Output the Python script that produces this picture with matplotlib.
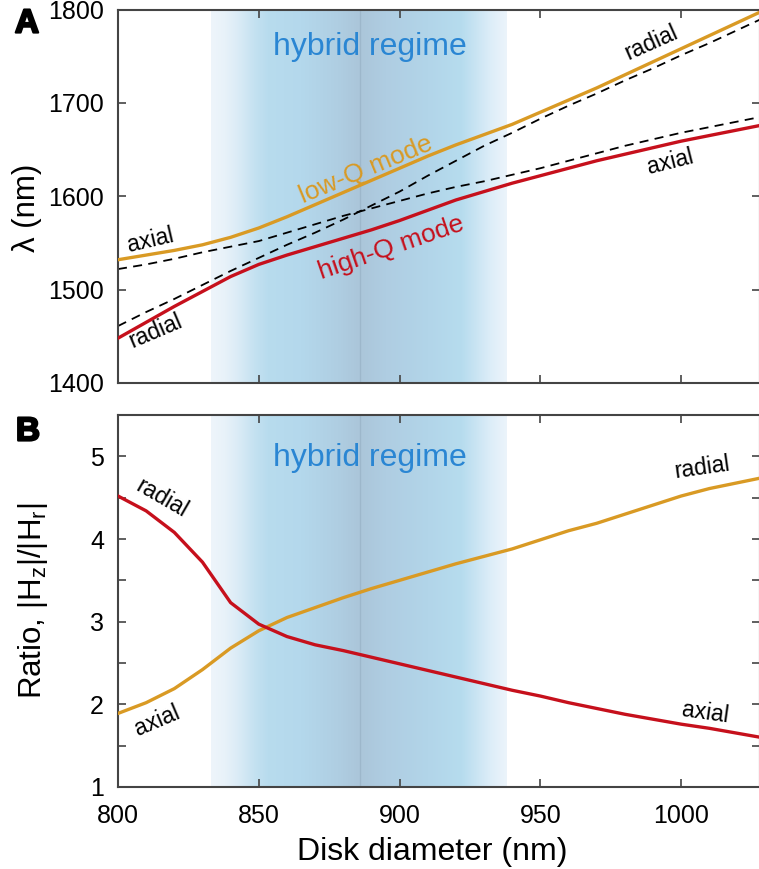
import numpy as np
import matplotlib
matplotlib.use("Agg")
import matplotlib.pyplot as plt
from matplotlib.colors import to_rgb
import matplotlib.patheffects as pe

plt.rcParams['font.family'] = ['Liberation Sans', 'DejaVu Sans']
plt.rcParams['mathtext.fontset'] = 'custom'
plt.rcParams['mathtext.rm'] = 'Liberation Sans'

# ---------------- data ----------------
diameter = [800, 810, 820, 830, 840, 850, 860, 870, 880, 890, 900, 910,
            920, 930, 940, 950, 960, 970, 980, 990, 1000, 1010, 1020, 1030]

# Panel A: wavelength (nm)
lowq_wl = [1532, 1537, 1542, 1548, 1556, 1566, 1578, 1591, 1604, 1617, 1630, 1643,
           1655, 1666, 1677, 1690, 1703, 1716, 1730, 1744, 1758, 1772, 1786, 1800]
highq_wl = [1448, 1465, 1482, 1498, 1514, 1527, 1537, 1546, 1555, 1564, 1574, 1585,
            1596, 1605, 1614, 1622, 1630, 1638, 1645, 1652, 1659, 1665, 1671, 1677]
radial_uncoupled = [1461, 1476, 1490, 1505, 1520, 1534, 1548, 1561, 1575, 1590, 1605, 1622,
                    1638, 1654, 1668, 1683, 1697, 1710, 1724, 1737, 1751, 1764, 1778, 1792]
axial_uncoupled = [1522, 1527, 1533, 1540, 1546, 1552, 1561, 1570, 1579, 1587, 1595, 1603,
                   1610, 1616, 1623, 1630, 1638, 1646, 1654, 1661, 1668, 1674, 1680, 1686]

# Panel B: ratio |Hz|/|Hr|
highq_ratio = [4.52, 4.34, 4.08, 3.72, 3.23, 2.97, 2.82, 2.72, 2.65, 2.57, 2.49, 2.41,
               2.33, 2.25, 2.17, 2.10, 2.02, 1.95, 1.88, 1.82, 1.76, 1.71, 1.65, 1.59]
lowq_ratio = [1.89, 2.02, 2.19, 2.42, 2.68, 2.89, 3.05, 3.17, 3.29, 3.40, 3.50, 3.60,
              3.70, 3.79, 3.88, 3.99, 4.10, 4.19, 4.30, 4.41, 4.52, 4.61, 4.68, 4.75]

hybrid_start, hybrid_center, hybrid_end = 833, 886, 938

yticks_a = [1400, 1500, 1600, 1700, 1800]
yticks_b = [1, 1.5, 2, 2.5, 3, 3.5, 4, 4.5, 5]
yticklabels_b = ['1', '', '2', '', '3', '', '4', '', '5']
xticks = [800, 850, 900, 950, 1000]

# ---------------- style ----------------
GOLD = '#D99A24'
RED = '#C6101C'
BLUE_TXT = '#2A86D3'
SPINE = '#444444'

W, H = 759, 869
fig = plt.figure(figsize=(W / 100, H / 100), dpi=100)

def ax_rect(left, top, right, bottom):
    return [left / W, 1 - bottom / H, (right - left) / W, (bottom - top) / H]

axA = fig.add_axes(ax_rect(118, 9.5, 760, 383))
axB = fig.add_axes(ax_rect(118, 415, 760, 787))

# gradient for hybrid regime
grad_x = np.array([833, 838, 843, 848, 853, 865, 878, 885.5, 886.5, 895, 910, 922, 927, 932, 938], float)
grad_c = ['#eef5fb', '#e8f2f9', '#d9ebf6', '#c6e2f1', '#b8dcee', '#b4d8ec', '#afcee2', '#abc6da',
          '#abc6da', '#afcde2', '#b2d5e9', '#b6dcee', '#c9e4f3', '#dcedf8', '#ecf4fb']

def draw_hybrid(ax, ylo, yhi):
    xs = np.linspace(hybrid_start, hybrid_end, 600)
    cols = np.array([to_rgb(c) for c in grad_c])
    img = np.stack([np.interp(xs, grad_x, cols[:, k]) for k in range(3)], axis=-1)[None, :, :]
    ax.imshow(img, extent=[hybrid_start, hybrid_end, ylo, yhi], aspect='auto',
              interpolation='bilinear', zorder=0)
    ax.axvline(hybrid_center, color='#9db7cb', lw=1.0, zorder=0.5)

def style(ax):
    for s in ax.spines.values():
        s.set_color(SPINE)
        s.set_linewidth(1.5)
    ax.tick_params(direction='in', length=6, width=1.2, color=SPINE,
                   top=True, right=True, labelsize=18, pad=10, labelcolor='black')

lbl = dict(color='black', fontsize=16.5, ha='center', va='center')

# ---- Panel A ----
axA.set_xlim(800, 1028)
axA.set_ylim(1400, 1800)
draw_hybrid(axA, 1400, 1800)
axA.plot(diameter, radial_uncoupled, '--', color='black', lw=1.3, dashes=(5, 3.5), zorder=2)
axA.plot(diameter, axial_uncoupled, '--', color='black', lw=1.3, dashes=(5, 3.5), zorder=2)
axA.plot(diameter, lowq_wl, color=GOLD, lw=2.4, zorder=3)
axA.plot(diameter, highq_wl, color=RED, lw=2.4, zorder=3)
axA.set_xticks(xticks)
axA.set_xticklabels([])
axA.set_yticks(yticks_a)
style(axA)
axA.set_ylabel('λ (nm)', fontsize=22.5)
axA.yaxis.set_label_coords(-0.118, 0.468)

axA.text(889.5, 1760, 'hybrid regime', color=BLUE_TXT, fontsize=23, ha='center', va='center')
axA.text(888, 1628, 'low-Q mode', color=GOLD, fontsize=19, ha='center', va='center', rotation=22.5)
axA.text(897, 1545, 'high-Q mode', color=RED, fontsize=19, ha='center', va='center', rotation=19)
axA.text(811.5, 1553, 'axial', rotation=13, **lbl)
axA.text(813.5, 1456, 'radial', rotation=23, **lbl)
axA.text(989.5, 1764, 'radial', rotation=24, **lbl)
axA.text(996, 1637, 'axial', rotation=14, **lbl)

# ---- Panel B ----
axB.set_xlim(800, 1028)
axB.set_ylim(1, 5.5)
draw_hybrid(axB, 1, 5.5)
axB.plot(diameter, lowq_ratio, color=GOLD, lw=2.4, zorder=3)
axB.plot(diameter, highq_ratio, color=RED, lw=2.4, zorder=3)
axB.set_xticks(xticks)
axB.set_yticks(yticks_b)
axB.set_yticklabels(yticklabels_b)
style(axB)
axB.tick_params(axis='x', pad=12)
axB.set_ylabel('Ratio, |H$_{\\mathregular{z}}$|/|H$_{\\mathregular{r}}$|', fontsize=22.5)
axB.yaxis.set_label_coords(-0.106, 0.5)
axB.set_xlabel('Disk diameter (nm)', fontsize=23)
axB.xaxis.set_label_coords(0.489, -0.135)

axB.text(889.5, 4.98, 'hybrid regime', color=BLUE_TXT, fontsize=23, ha='center', va='center')
axB.text(815.5, 4.49, 'radial', rotation=-30, **lbl)
axB.text(814, 1.80, 'axial', rotation=23, **lbl)
axB.text(1007.5, 4.86, 'radial', rotation=8, **lbl)
axB.text(1008.5, 1.90, 'axial', rotation=-8, **lbl)

stroke = [pe.withStroke(linewidth=1.6, foreground='black')]
fig.text(27 / W, 1 - 24 / H, 'A', fontsize=24, fontweight='heavy', ha='center', va='center',
         path_effects=stroke)
fig.text(28 / W, 1 - 432 / H, 'B', fontsize=24, fontweight='heavy', ha='center', va='center',
         path_effects=stroke)

fig.savefig('out.png', dpi=100)
